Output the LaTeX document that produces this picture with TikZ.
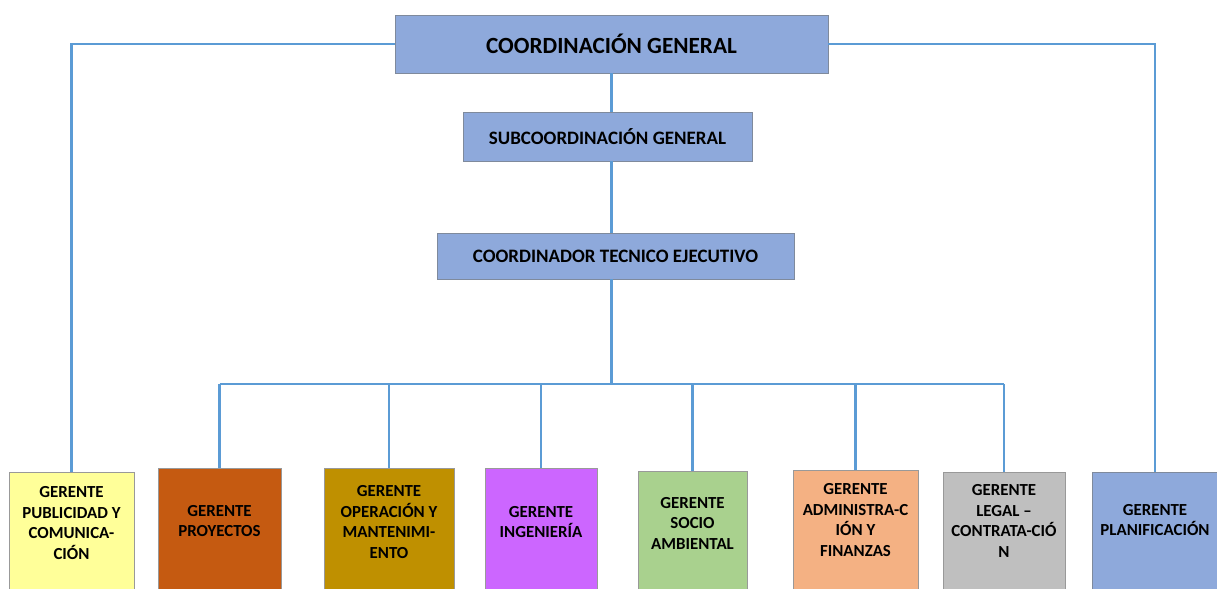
\documentclass[tikz,border=0pt]{standalone}
\usepackage{fontspec}
\setmainfont{Carlito}
\definecolor{jefeazul}{HTML}{8EA9DB}
\definecolor{borde}{HTML}{7F8A9C}
\definecolor{linea}{HTML}{5B9BD5}
\definecolor{amarillo}{HTML}{FFFF99}
\definecolor{ladrillo}{HTML}{C55A11}
\definecolor{ocre}{HTML}{BF9000}
\definecolor{lila}{HTML}{CC66FF}
\definecolor{verde}{HTML}{A9D18E}
\definecolor{salmon}{HTML}{F4B183}
\definecolor{gris}{HTML}{BFBFBF}
\tikzset{
  jefe/.style={draw=borde, fill=jefeazul, inner sep=0pt},
  gerente/.style={draw=gris!80!black, anchor=north, minimum height=3.5cm, inner sep=0pt},
  rotulo/.style={font=\bfseries\fontsize{12}{14.6}\selectfont, align=center, inner sep=0pt},
  conector/.style={draw=linea, line width=1.6pt},
}
\begin{document}
\begin{tikzpicture}[x=0.025cm, y=-0.025cm]
  \useasboundingbox (0,0) rectangle (1217,588);
  \clip (0,0) rectangle (1217,588);

  \node[jefe, minimum width=10.825cm, minimum height=1.45cm,
        font=\bfseries\fontsize{16.5}{19}\selectfont] (cg) at (611.5,44) {COORDINACIÓN GENERAL};
  \node[jefe, minimum width=7.225cm, minimum height=1.225cm,
        font=\bfseries\fontsize{13.5}{16}\selectfont] (sc) at (607.5,136.5) {SUBCOORDINACIÓN GENERAL};
  \node[jefe, minimum width=8.925cm, minimum height=1.15cm,
        font=\bfseries\fontsize{13.5}{16}\selectfont] (ct) at (615.5,256) {COORDINADOR TECNICO EJECUTIVO};

  \node[gerente, fill=amarillo, minimum width=3.125cm] (g1) at (71.5,472) {};
  \node[gerente, fill=ladrillo, minimum width=3.075cm] (g2) at (219.5,468) {};
  \node[gerente, fill=ocre, minimum width=3.25cm] (g3) at (389,468) {};
  \node[gerente, fill=lila, minimum width=2.8cm] (g4) at (541,468) {};
  \node[gerente, fill=verde, minimum width=2.725cm] (g5) at (692.5,471) {};
  \node[gerente, fill=salmon, minimum width=3.125cm] (g6) at (855.5,470) {};
  \node[gerente, fill=gris, minimum width=3.05cm] (g7) at (1004,472) {};
  \node[gerente, fill=jefeazul, draw=borde, minimum width=3.15cm] (g8) at (1155,472) {};

  \node[rotulo] (t1) at (71.5,523) {GERENTE\\PUBLICIDAD Y\\COMUNICA-\\CIÓN};
  \node[rotulo] (t2) at (219.5,521) {GERENTE\\PROYECTOS};
  \node[rotulo] (t3) at (389,522) {GERENTE\\OPERACIÓN Y\\MANTENIMI-\\ENTO};
  \node[rotulo] (t4) at (541,522) {GERENTE\\INGENIERÍA};
  \node[rotulo] (t5) at (692.5,523) {GERENTE\\SOCIO\\AMBIENTAL};
  \node[rotulo] (t6) at (855.5,520) {GERENTE\\ADMINISTRA-C\\IÓN Y\\FINANZAS};
  \node[rotulo] (t7) at (1004,521) {GERENTE\\LEGAL --\\CONTRATA-CIÓ\\N};
  \node[rotulo] (t8) at (1155,520) {GERENTE\\PLANIFICACIÓN};

  \coordinate (bus) at (611.5,384);
  \draw[conector] (cg.south) -- (cg.south |- sc.north);
  \draw[conector] (cg.south |- sc.south) -- (cg.south |- ct.north);
  \draw[conector] (cg.south |- ct.south) -- (bus);
  \draw[conector] (g2.north |- bus) -- (g7.north |- bus);
  \foreach \g in {g2,g3,g4,g5,g6,g7}
    \draw[conector] (\g.north |- bus) -- (\g.north);
  \draw[conector] (cg.west) -| (g1.north);
  \draw[conector] (cg.east) -| (g8.north);
\end{tikzpicture}
\end{document}
